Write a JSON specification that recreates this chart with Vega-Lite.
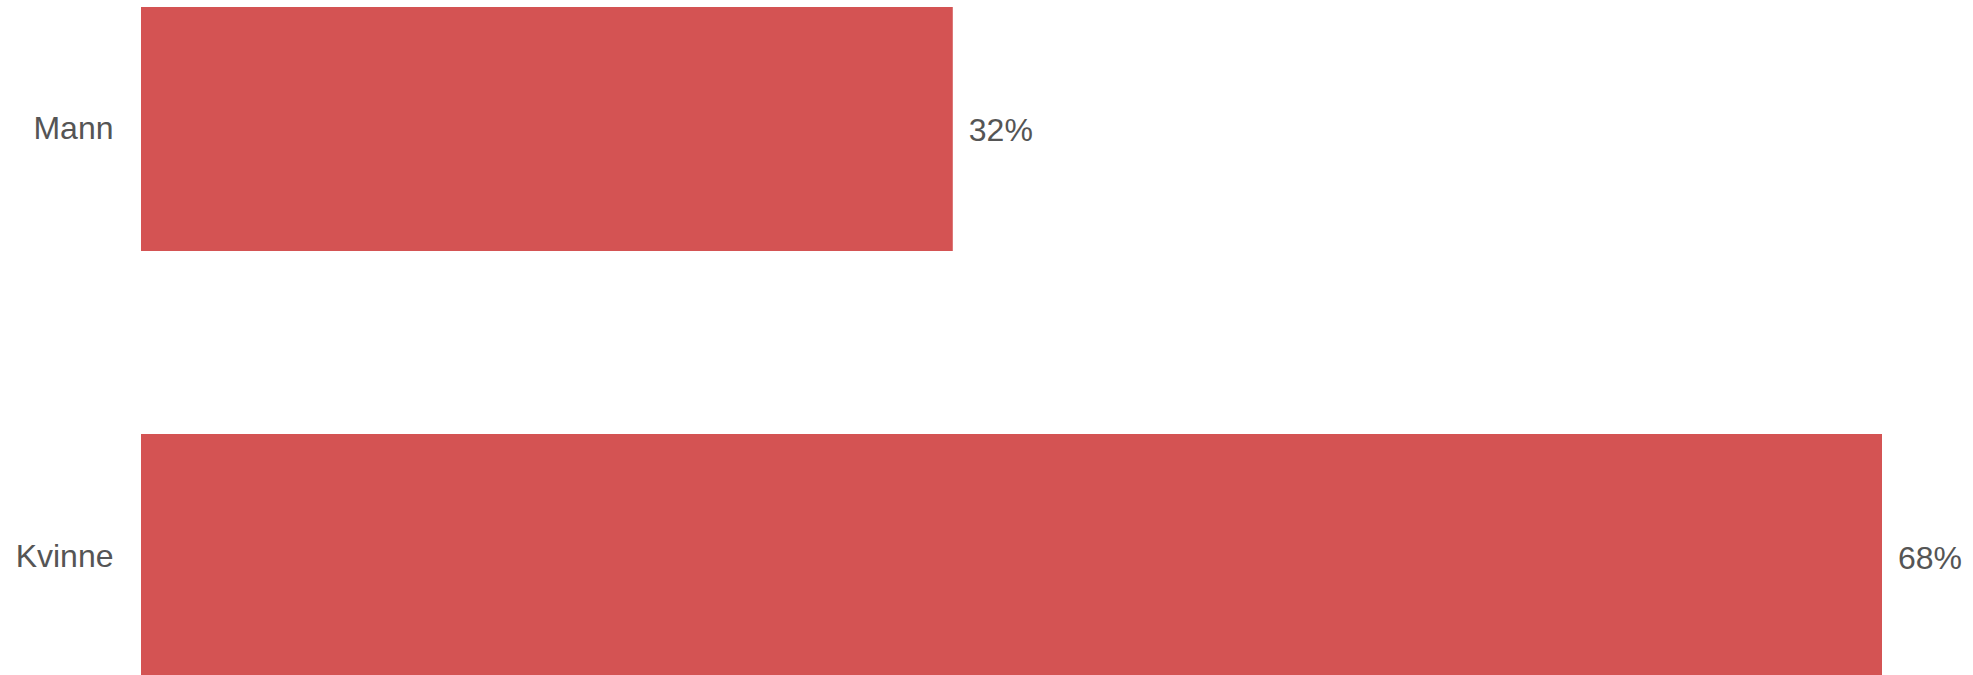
{
  "$schema": "https://vega.github.io/schema/vega-lite/v6.json",
  "autosize": "none",
  "padding": {"left": 141, "top": 0, "right": 91, "bottom": 0},
  "width": 1741,
  "height": 685,
  "background": "white",
  "config": {"view": {"stroke": null}, "font": "Liberation Sans"},
  "data": {"values": [
    {"kjonn": "Mann", "andel": 0.318},
    {"kjonn": "Kvinne", "andel": 0.682}
  ]},
  "encoding": {
    "y": {"field": "kjonn", "type": "nominal", "sort": ["Mann", "Kvinne"],
      "scale": {"paddingInner": 0.4286, "paddingOuter": 0.0164},
      "axis": {"title": null, "domain": false, "ticks": false, "labelPadding": 28, "labelFontSize": 32, "labelColor": "#555555", "labelFont": "Liberation Sans", "labelBaseline": "alphabetic", "labelOffset": 10.5}},
    "x": {"field": "andel", "type": "quantitative", "scale": {"domain": [0, 0.682], "nice": false, "zero": true}, "axis": null}
  },
  "layer": [
    {"mark": {"type": "bar", "color": "#d45353"}},
    {"mark": {"type": "text", "align": "left", "baseline": "alphabetic", "dx": 16, "dy": 12.5, "fontSize": 32, "color": "#555555", "font": "Liberation Sans"},
     "encoding": {"text": {"field": "andel", "type": "quantitative", "format": ".0%"}}}
  ]
}
